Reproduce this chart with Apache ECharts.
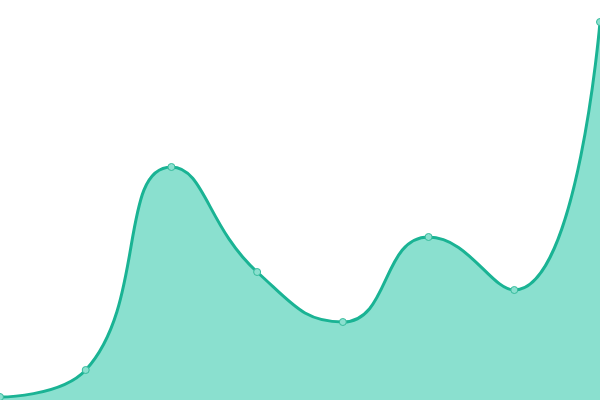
<!DOCTYPE html>
<html>
<head>
<meta charset="utf-8">
<script src="https://cdn.jsdelivr.net/npm/echarts@6/dist/echarts.min.js"></script>
<style>
  html, body { margin: 0; padding: 0; background: #fff; }
  #chart { width: 600px; height: 400px; }
</style>
</head>
<body>
<div id="chart"></div>
<script>
var categories = ['1', '2', '3', '4', '5', '6', '7', '8'];
var values = [3, 30, 233, 128, 78, 163, 110, 378];

var myChart = echarts.init(document.getElementById('chart'));
myChart.setOption({
    animation: false,
    grid: { left: 0, right: 0, top: 0, bottom: 0 },
    xAxis: {
        type: 'category',
        boundaryGap: false,
        data: categories,
        show: false
    },
    yAxis: {
        type: 'value',
        min: 0,
        max: 400,
        show: false
    },
    series: [
        {
            type: 'line',
            smooth: true,
            data: values,
            symbol: 'circle',
            symbolSize: 7,
            itemStyle: {
                color: '#8ae0cf',
                borderColor: '#36bb9c',
                borderWidth: 1
            },
            lineStyle: { color: '#1ab394', width: 3 },
            areaStyle: { color: '#8ae0cf', opacity: 1 }
        }
    ]
});
</script>
</body>
</html>
